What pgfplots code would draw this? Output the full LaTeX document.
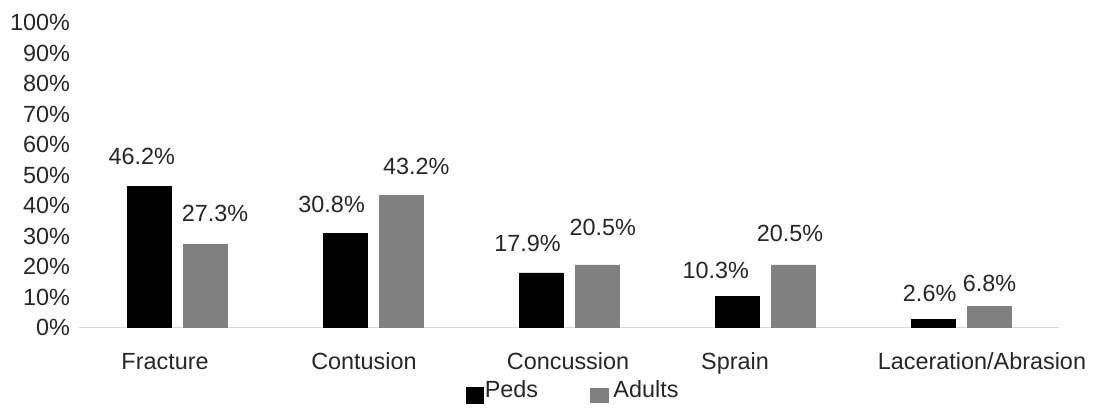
\documentclass[border=0pt]{standalone}
\usepackage{fontspec}
\setmainfont{Liberation Sans}
\usepackage{pgfplots}
\pgfplotsset{compat=1.18}
\definecolor{barGray}{HTML}{808080}
\definecolor{axisGray}{HTML}{D9D9D9}
\definecolor{txt}{HTML}{262626}
\begin{document}
\begin{tikzpicture}[font=\fontsize{11.7}{14}\selectfont]
\useasboundingbox (-39.5pt,-44.25pt) rectangle (508pt,163.75pt);
\begin{axis}[
  at={(0,0)}, anchor=south west,
  scale only axis, width=490pt, height=152.5pt,
  xmin=-0.5, xmax=4.5, ymin=0, ymax=100,
  ybar=6pt, bar width=22pt,
  axis x line=bottom, axis y line=left,
  x axis line style={-, draw=axisGray, line width=0.8pt},
  y axis line style={draw=none},
  major tick length=0pt, tick style={draw=none},
  xtick={-0.061,0.954,1.995,2.847,4.107},
  xticklabels={Fracture,Contusion,Concussion,Sprain,Laceration/Abrasion},
  xticklabel style={anchor=base, yshift=-20.9pt, text=txt},
  ytick={0,10,...,100},
  yticklabel={\pgfmathprintnumber{\tick}\%},
  yticklabel style={text=txt, xshift=-1pt},
  /pgf/number format/assume math mode=true,
  legend columns=2,
  legend style={draw=none, fill=none, inner sep=0pt, at={(0.3947,-0.21)}, anchor=west,
    nodes={inner sep=0.5pt, text=txt},
    /tikz/every even column/.append style={column sep=24pt}},
]
\addplot[fill=black, draw=black, legend image code/.code={\fill[black, draw=none] (0pt,-6.5pt) rectangle (8.8pt,1.8pt);}]
  coordinates {(0,46.2) (1,30.8) (2,17.9) (3,10.3) (4,2.6)};
\addplot[fill=barGray, draw=barGray, legend image code/.code={\path[draw=none, fill=none] (0pt,-1pt) rectangle (12.65pt,0pt); \fill[barGray, draw=none] (1.5pt,-6pt) rectangle (11pt,1.2pt);}]
  coordinates {(0,27.3) (1,43.2) (2,20.5) (3,20.5) (4,6.8)};
\legend{Peds,Adults}
\node[text=txt] at (axis cs:-0.18,56.1) {46.2\%};
\node[text=txt] at (axis cs:0.194,37.5) {27.3\%};
\node[text=txt] at (axis cs:0.789,40.2) {30.8\%};
\node[text=txt] at (axis cs:1.221,52.7) {43.2\%};
\node[text=txt] at (axis cs:1.788,27.6) {17.9\%};
\node[text=txt] at (axis cs:2.172,32.8) {20.5\%};
\node[text=txt] at (axis cs:2.749,18.85) {10.3\%};
\node[text=txt] at (axis cs:3.128,30.8) {20.5\%};
\node[text=txt] at (axis cs:3.840,11.2) {2.6\%};
\node[text=txt] at (axis cs:4.146,14.6) {6.8\%};
\end{axis}
\end{tikzpicture}
\end{document}
